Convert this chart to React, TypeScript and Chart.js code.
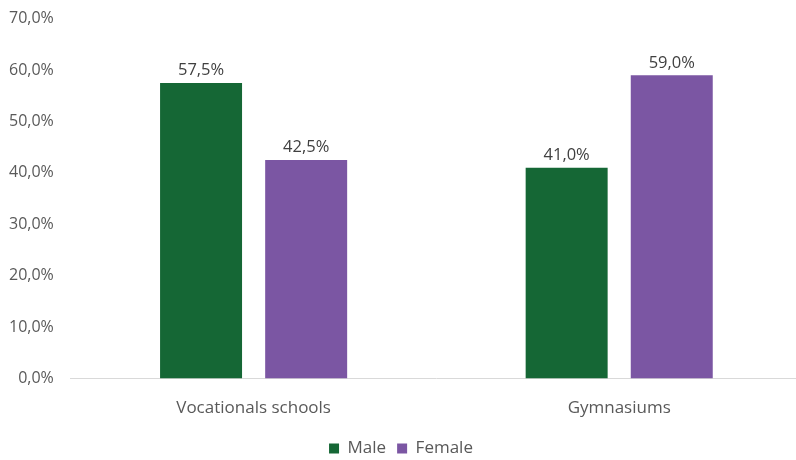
import React, { useEffect, useRef } from "react";
import { Chart, registerables } from "chart.js";

Chart.register(...registerables);

const categories = ["Vocationals schools", "Gymnasiums"];
const maleValues = [57.5, 41.0];
const femaleValues = [42.5, 59.0];
const yTicks = [0, 10, 20, 30, 40, 50, 60, 70];

const fmt = (v: number) => v.toFixed(1).replace(".", ",") + "%";
const FONT = "'Open Sans', sans-serif";

const labelPlugin = {
  id: "barLabels",
  afterDatasetsDraw(chart: any) {
    const ctx = chart.ctx;
    ctx.save();
    ctx.font = "16.5px 'Open Sans', sans-serif";
    ctx.fillStyle = "#404040";
    ctx.textAlign = "center";
    ctx.textBaseline = "bottom";
    chart.data.datasets.forEach((ds: any, di: number) => {
      const meta = chart.getDatasetMeta(di);
      meta.data.forEach((bar: any, i: number) => {
        ctx.fillText(fmt(ds.data[i]), bar.x, bar.y - 4);
      });
    });
    ctx.restore();
  },
};

export default function App() {
  const ref = useRef<HTMLCanvasElement>(null);
  useEffect(() => {
    if (!ref.current) return;
    const chart = new Chart(ref.current, {
      type: "bar",
      data: {
        labels: categories,
        datasets: [
          { label: "Male", data: maleValues, backgroundColor: "#156735" },
          { label: "Female", data: femaleValues, backgroundColor: "#7B56A3" },
        ],
      },
      options: {
        animation: false,
        responsive: false,
        layout: { padding: { top: 4, left: 0, right: 4, bottom: 0 } },
        datasets: { bar: { categoryPercentage: 0.575, barPercentage: 0.78 } } as any,
        scales: {
          x: {
            grid: { display: false },
            border: { color: "#d9d9d9", width: 1 },
            ticks: {
              color: "#595959",
              font: { family: FONT, size: 17 },
              padding: 11,
            },
          },
          y: {
            min: 0,
            max: 70,
            afterBuildTicks: (axis: any) => {
              axis.ticks = yTicks.map((v) => ({ value: v }));
            },
            grid: { display: false },
            border: { display: false },
            ticks: {
              color: "#595959",
              font: { family: FONT, size: 16 },
              padding: 9,
              callback: (v: any) => fmt(Number(v)),
            },
          },
        },
        plugins: {
          legend: {
            position: "bottom",
            labels: {
              boxWidth: 10,
              boxHeight: 10,
              color: "#595959",
              font: { family: FONT, size: 17 },
              padding: 11,
            },
          },
          tooltip: { enabled: false },
        },
      },
      plugins: [labelPlugin],
    });
    return () => chart.destroy();
  }, []);
  return (
    <div style={{ position: "absolute", left: 0, top: 0, width: 796, height: 460, overflow: "hidden", background: "#fff" }}>
      <canvas ref={ref} width={806} height={467} style={{ display: "block", position: "absolute", left: 0, top: 0 }} />
    </div>
  );
}
